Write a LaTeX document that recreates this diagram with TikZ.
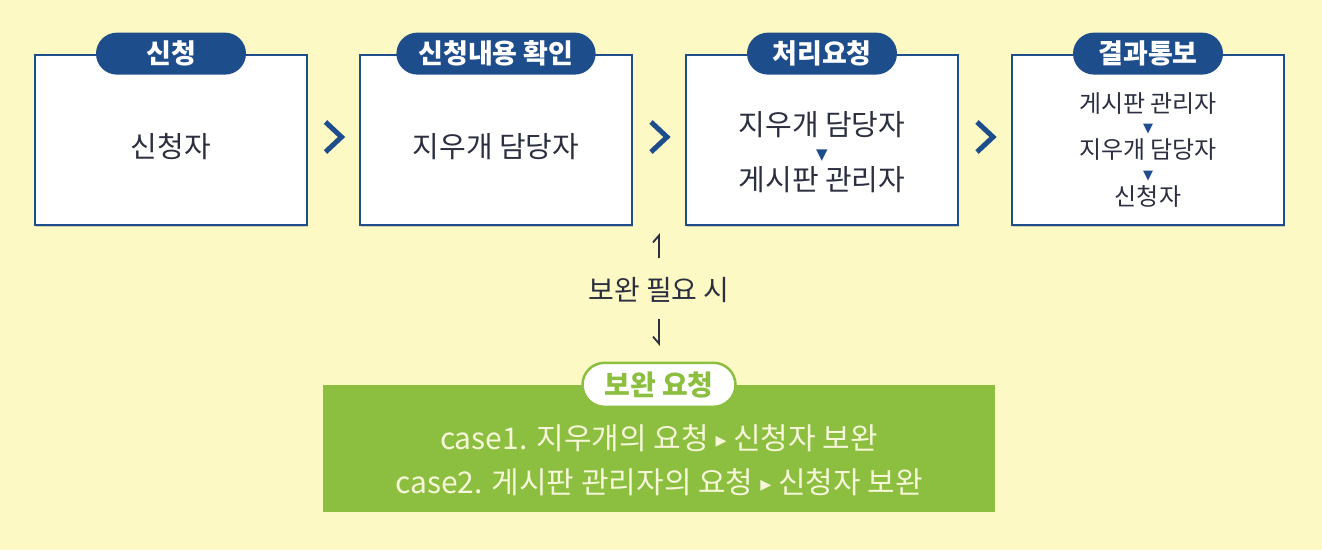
\documentclass[tikz,border=0pt]{standalone}
\usepackage{fontspec}
\setmainfont{Noto Sans CJK KR}
\newfontfamily\symfont{DejaVu Sans}
\usetikzlibrary{arrows.meta,calc,shadows}

\definecolor{paper}{HTML}{FDF9C4}
\definecolor{navy}{HTML}{1E4D8C}
\definecolor{leaf}{HTML}{8CBE40}
\definecolor{ink}{HTML}{2B2F40}
\definecolor{cream}{HTML}{F5F7D8}

\newcommand{\down}[2]{\raisebox{#2}{\color{navy}\symfont\fontsize{#1}{#1}\selectfont ▼}}

\begin{document}
\begin{tikzpicture}[x=1pt,y=-1pt,
    stepbox/.style={draw=navy,line width=2.8pt,fill=white,minimum width=272pt,minimum height=170pt,
        drop shadow={shadow xshift=1pt,shadow yshift=-1.5pt,opacity=0.35}},
    tag/.style={rounded corners=21pt,fill=navy,text=white,font=\bfseries\fontsize{27}{30}\selectfont,
        minimum width=150pt,minimum height=42pt,inner xsep=22pt,inner ysep=0pt},
    body/.style={text=ink,font=\fontsize{29}{27.5}\selectfont,align=center},
    small/.style={text=ink,font=\fontsize{24}{23.3}\selectfont,align=center},
    chev/.style={draw=navy,line width=5pt},
    harp/.style={draw=ink,line width=1.8pt,-{Straight Barb[harpoon,length=7pt,width=12pt,line width=1.8pt]}}]

    \useasboundingbox[fill=paper] (0,0) rectangle (1322,550);

    \node[stepbox] (b1) at (171,140) {};
    \node[stepbox] (b2) at (496,140) {};
    \node[stepbox] (b3) at (822,140) {};
    \node[stepbox] (b4) at (1148,140) {};

    \node[tag] (p1) at (b1.north) {신청};
    \node[tag] (p2) at (b2.north) {신청내용 확인};
    \node[tag] (p3) at (b3.north) {처리요청};
    \node[tag] (p4) at (b4.north) {결과통보};

    \node[body] (t1) at (171,147) {신청자};
    \node[body] (t2) at (496,147) {지우개 담당자};
    \node[body] (t3) at (822,152) {지우개 담당자\\\down{15}{3pt}\\게시판 관리자};
    \node[small] (t4) at (1148,150) {게시판 관리자\\\down{13}{3pt}\\지우개 담당자\\\down{13}{3pt}\\신청자};

    \coordinate (c1) at ($(b1.east)!0.5!(b2.west)$);
    \coordinate (c2) at ($(b2.east)!0.5!(b3.west)$);
    \coordinate (c3) at ($(b3.east)!0.5!(b4.west)$);
    \foreach \c in {c1,c2,c3}
        \draw[chev] ($(\c)+(-8,-18)$) -- ($(\c)+(8,-3)$) -- ($(\c)+(-8,12)$);

    \node[text=ink,font=\fontsize{28}{30}\selectfont] (need) at (659,290) {보완 필요 시};
    \coordinate (a1) at (659,258);
    \coordinate (a2) at (659,233);
    \coordinate (a3) at (659,319);
    \coordinate (a4) at (659,346);
    \draw[harp] (a1) -- (a2);
    \draw[harp,-{Straight Barb[harpoon,swap,length=7pt,width=12pt,line width=1.8pt]}] (a3) -- (a4);

    \node[fill=leaf,minimum width=672pt,minimum height=127pt] (fix) at (659,448.5) {};
    \node[text=cream,font=\fontsize{30}{44}\selectfont,align=center] (cases) at (659,460)
        {case1. 지우개의 요청 \raisebox{2pt}{\symfont\fontsize{22}{22}\selectfont ▸} 신청자 보완\\
         case2. 게시판 관리자의 요청 \raisebox{2pt}{\symfont\fontsize{22}{22}\selectfont ▸} 신청자 보완};
    \node[rounded corners=22pt,draw=leaf,line width=2.5pt,fill=white,text=leaf,
        font=\bfseries\fontsize{28}{30}\selectfont,minimum width=153pt,minimum height=44pt,inner xsep=20pt,inner ysep=0pt]
        (ask) at (fix.north) {보완 요청};
\end{tikzpicture}
\end{document}
